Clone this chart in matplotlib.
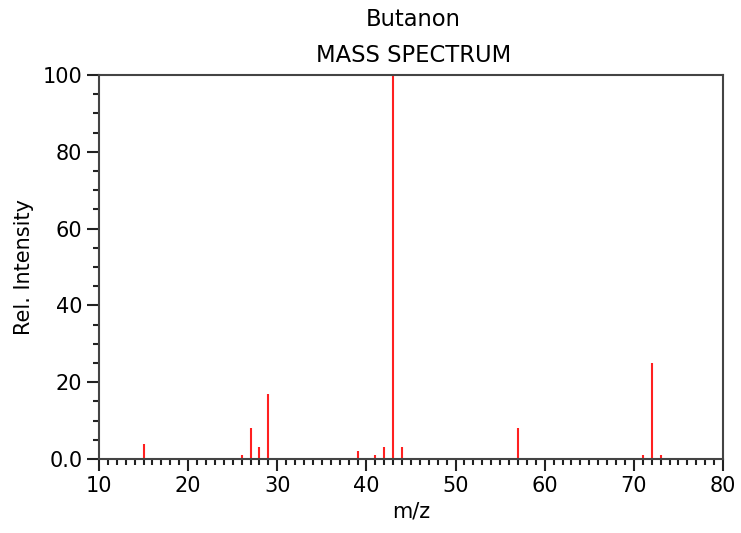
import matplotlib
matplotlib.use("Agg")
import matplotlib.pyplot as plt
from matplotlib.ticker import MultipleLocator, FuncFormatter

mz = [15, 26, 27, 28, 29, 39, 41, 42, 43, 44, 57, 71, 72, 73]
intensity = [4, 1, 8, 3, 17, 2, 1, 3, 100, 3, 8, 1, 25, 1]
title_name = "Butanon"
title_sub = "MASS SPECTRUM"

fig = plt.figure(figsize=(7.41, 5.33), dpi=100)
ax = fig.add_axes([0.1336, 0.1388, 0.9757 - 0.1336, 0.8593 - 0.1388])

ax.vlines(mz, 0, intensity, colors="#ff2020", linewidth=1.5)

ax.set_xlim(10, 80)
ax.set_ylim(0, 100)
ax.xaxis.set_major_locator(MultipleLocator(10))
ax.xaxis.set_minor_locator(MultipleLocator(1))
ax.yaxis.set_major_locator(MultipleLocator(20))
ax.yaxis.set_minor_locator(MultipleLocator(5))
ax.yaxis.set_major_formatter(FuncFormatter(lambda v, p: "0.0" if v == 0 else f"{int(v)}"))

ax.tick_params(which="major", direction="out", length=8.5, width=1.5, labelsize=15, color="#222222")
ax.tick_params(which="minor", direction="out", length=4.3, width=1.5, color="#222222")
for s in ax.spines.values():
    s.set_linewidth(1.5)
    s.set_color("#444444")

ax.set_xlabel("m/z", fontsize=15, labelpad=4)
ax.set_ylabel("Rel. Intensity", fontsize=15, labelpad=6)

fig.text(0.5577, 1 - 20 / 533, title_name, ha="center", va="center", fontsize=16.3)
fig.text(0.5577, 1 - 55 / 533, title_sub, ha="center", va="center", fontsize=16.3)

fig.savefig("out.png", dpi=100)
